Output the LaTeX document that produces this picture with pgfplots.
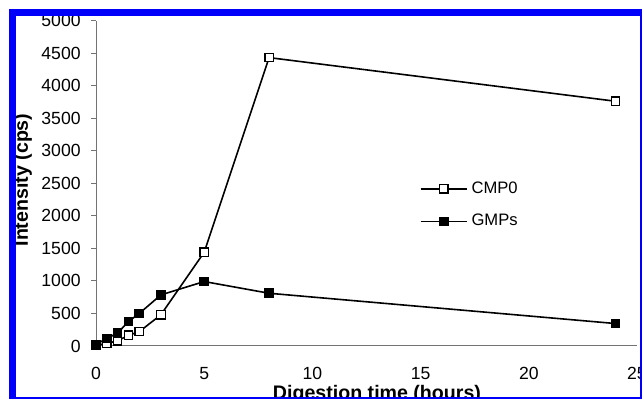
\documentclass[border=0pt]{standalone}
\usepackage{fontspec}
\setmainfont{Liberation Sans}
\usepackage{pgfplots}
\pgfplotsset{compat=1.18}
\definecolor{framblue}{RGB}{0,0,250}
\begin{document}
\begin{tikzpicture}
\useasboundingbox (0,0) rectangle (321.5pt,200pt);
\fill[white] (0,0) rectangle (321.5pt,200pt);
\begin{scope}
\clip (8pt,1.25pt) rectangle (320pt,192pt);
\begin{axis}[
  at={(48pt,27pt)}, anchor=south west,
  scale only axis, width=270.5pt, height=162.75pt,
  xmin=0, xmax=25, ymin=0, ymax=5000,
  axis x line*=bottom, axis y line*=left,
  axis line style={draw=black!55, line width=0.5pt},
  xtick={0,5,10,15,20,25}, ytick={0,500,...,5000},
  tick align=outside, major tick length=2.5pt,
  xtick style={draw=none},
  ytick style={draw=black!55, line width=0.5pt},
  tick label style={font=\fontsize{8.8}{10}\selectfont},
  /pgf/number format/assume math mode=true,
  /pgf/number format/set thousands separator={},
  scaled y ticks=false,
  xticklabel style={inner sep=0pt, anchor=north, yshift=-8pt},
  yticklabel style={inner sep=0pt, anchor=east, xshift=-5pt},
  clip=false,
  xlabel={Digestion time (hours)},
  ylabel={Intensity (cps)},
  every axis x label/.style={at={(axis description cs:0.5194,-0.1659)}, anchor=base,
    font=\fontsize{9.8}{11}\selectfont\bfseries},
  every axis y label/.style={at={(axis description cs:-0.1257,0.51)}, rotate=90, anchor=base,
    font=\fontsize{9.8}{11}\selectfont\bfseries},
  legend style={draw=none, fill=none, at={(axis description cs:0.598,0.519)}, anchor=north west,
    font=\fontsize{8.3}{10}\selectfont, inner sep=0pt, row sep=5pt},
  legend cell align=left,
  legend image code/.code={\draw[mark repeat=2,mark phase=2,#1] plot coordinates {(0pt,0pt) (11.5pt,0pt) (23pt,0pt)};},
]
\addplot[black, line width=0.8pt, mark=square*, mark size=2.1pt,
  mark options={fill=white, draw=black, line width=0.6pt, solid}]
  coordinates {(0,10) (0.5,40) (1,80) (1.5,165) (2,220) (3,480) (5,1440) (8,4430) (24,3760)};
\addlegendentry{CMP0}
\addplot[black, line width=0.8pt, mark=square*, mark size=2.1pt,
  mark options={fill=black, draw=black, line width=0.6pt, solid}]
  coordinates {(0,25) (0.5,115) (1,200) (1.5,375) (2,500) (3,785) (5,990) (8,810) (24,345)};
\addlegendentry{GMPs}
\end{axis}
\end{scope}
% frame
\fill[framblue] (4.5pt,192pt) rectangle (321pt,195.5pt);
\fill[framblue] (4.5pt,0.5pt) rectangle (8pt,195.5pt);
\fill[framblue] (320pt,0.5pt) rectangle (321pt,195.5pt);
\fill[framblue] (4.5pt,0.5pt) rectangle (321pt,1.25pt);
\end{tikzpicture}
\end{document}
